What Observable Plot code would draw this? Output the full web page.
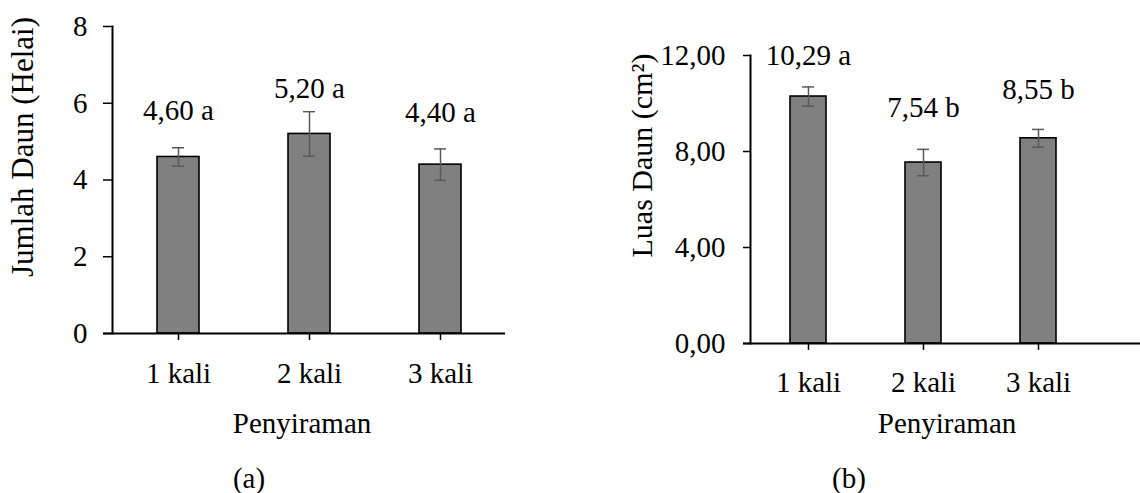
<!DOCTYPE html>
<html>
<head>
<meta charset="utf-8">
<script src="https://cdn.jsdelivr.net/npm/d3@7"></script>
<script src="https://cdn.jsdelivr.net/npm/@observablehq/plot@0.6"></script>
<style>
  html, body { margin: 0; padding: 0; background: #fff; }
  #wrap { position: relative; width: 1140px; height: 493px; overflow: hidden; }
  #a, #b { position: absolute; top: 0; }
  #a { left: 0; }
  #b { left: 570px; }
</style>
</head>
<body>
<div id="wrap"><div id="a"></div><div id="b"></div></div>
<script>
const categories = ["1 kali", "2 kali", "3 kali"];

// (a) Jumlah Daun (Helai)
const jumlahMean = [4.60, 5.20, 4.40];
const jumlahErr = [0.24, 0.58, 0.41];
const jumlahLetter = ["a", "a", "a"];
const jumlahLabelY = [5.8, 6.38, 5.75];
const jumlahTicks = [0, 2, 4, 6, 8];

// (b) Luas Daun (cm²)
const luasMean = [10.29, 7.54, 8.55];
const luasErr = [0.40, 0.55, 0.37];
const luasLetter = ["a", "b", "b"];
const luasLabelY = [12.0, 9.83, 10.58];
const luasTicks = [0, 4, 8, 12];

const FONT = "'Liberation Serif', 'Times New Roman', serif";
const FS = 29;
const comma = (v, d) => v.toFixed(d).replace(".", ",");

function build(opts) {
  const data = categories.map((c, i) => ({
    cat: c, v: opts.mean[i], e: opts.err[i],
    label: comma(opts.mean[i], 2) + " " + opts.letter[i],
    ly: opts.labelY[i]
  }));
  return Plot.plot({
    width: 570,
    height: 493,
    marginLeft: opts.ml,
    marginRight: opts.mr,
    marginTop: opts.mt,
    marginBottom: opts.mb,
    style: { fontFamily: FONT, fontSize: FS + "px", color: "#000", background: "transparent", overflow: "visible" },
    x: { domain: categories, paddingInner: opts.pad, paddingOuter: opts.pad / 2, label: null },
    y: { domain: opts.domain, label: null },
    marks: [
      Plot.barY(data, { x: "cat", y: "v", fill: "#808080", stroke: "#000", strokeWidth: 1.6 }),
      Plot.ruleX(data, { x: "cat", y1: d => d.v - d.e, y2: d => d.v + d.e, stroke: "#595959", strokeWidth: 1.5 }),
      Plot.tickY(data, { x: "cat", y: d => d.v - d.e, stroke: "#595959", strokeWidth: 1.5, inset: opts.capInset }),
      Plot.tickY(data, { x: "cat", y: d => d.v + d.e, stroke: "#595959", strokeWidth: 1.5, inset: opts.capInset }),
      Plot.text(data, { x: "cat", y: "ly", text: "label", fontSize: FS, fill: "#000" }),
      Plot.axisY({ ticks: opts.ticks, tickSize: opts.ytick, tickPadding: opts.ypad, tickFormat: opts.fmt, label: null, stroke: "#000", strokeWidth: 1.5, fontSize: FS }),
      Plot.axisX({ tickSize: 7, tickPadding: opts.xpad, label: null, stroke: "#000", strokeWidth: 1.5, fontSize: FS }),
      Plot.frame({ anchor: "left", stroke: "#000", strokeWidth: 2 }),
      Plot.ruleY([0], { stroke: "#000", strokeWidth: 2, insetLeft: -opts.ytick, insetRight: opts.ruleRight }),
      Plot.text([opts.ytitle], { frameAnchor: "left", textAnchor: "middle", lineAnchor: "middle", rotate: -90, dx: opts.ytx, dy: opts.yty, fontSize: opts.yfs, fill: "#000" }),
      Plot.text(["Penyiraman"], { frameAnchor: "bottom", lineAnchor: "middle", dx: opts.xtx, dy: opts.xty, fontSize: FS, fill: "#000" }),
      Plot.text([opts.cap], { frameAnchor: "bottom", lineAnchor: "middle", dx: opts.ctx, dy: opts.cty, fontSize: FS, fill: "#000" })
    ]
  });
}

document.getElementById("a").append(build({
  mean: jumlahMean, err: jumlahErr, letter: jumlahLetter, labelY: jumlahLabelY,
  ticks: jumlahTicks, domain: [0, 8], fmt: d => String(d),
  ml: 112, mr: 65, mt: 26, mb: 160, pad: 0.68, capInset: 15,
  ytick: 9, ypad: 16, xpad: 22, ruleRight: 0,
  ytitle: "Jumlah Daun (Helai)", ytx: -89, yty: -33, yfs: 31,
  xtx: -7, xty: 90, cap: "(a)", ctx: -60, cty: 145
}));

document.getElementById("b").append(build({
  mean: luasMean, err: luasErr, letter: luasLetter, labelY: luasLabelY,
  ticks: luasTicks, domain: [0, 12], fmt: d => comma(d, 2),
  ml: 180, mr: 45, mt: 55, mb: 150, pad: 0.687, capInset: 12,
  ytick: 7, ypad: 18, xpad: 21, ruleRight: -45,
  ytitle: "Luas Daun (cm²)", ytx: -108, yty: -44, yfs: 30,
  xtx: 24, xty: 80, cap: "(b)", ctx: -74, cty: 135
}));
</script>
</body>
</html>
